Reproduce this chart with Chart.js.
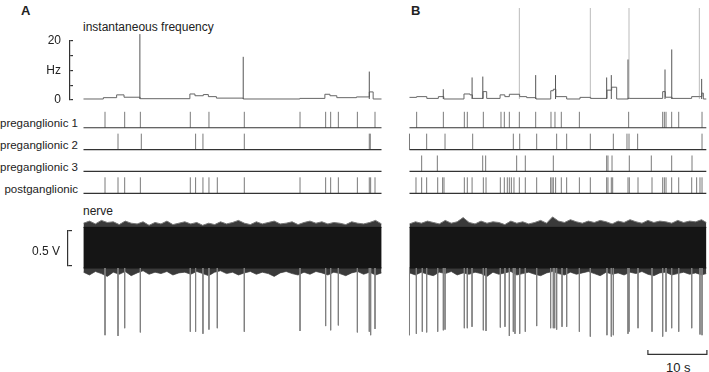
<!DOCTYPE html>
<html>
<head>
<meta charset="utf-8">
<script src="https://cdn.jsdelivr.net/npm/chart.js@4.4.1/dist/chart.umd.min.js"></script>
<style>
  body { margin: 0; background: #fff; }
  #fig { position: relative; width: 709px; height: 372px; overflow: hidden;
         font-family: "Liberation Sans", Arial, sans-serif; color: #222; }
  #fig canvas { position: absolute; }
  .lbl { position: absolute; white-space: nowrap; line-height: 1; }
  .row { font-size: 11.5px; text-align: right; width: 78px; left: 0; }
  .panel { font-size: 13px; font-weight: bold; }
</style>
</head>
<body>
<div id="fig">
  <div class="lbl panel" style="left:21px;top:4px">A</div>
  <div class="lbl panel" style="left:411px;top:4px">B</div>
  <div class="lbl" style="left:83px;top:21px;font-size:12px">instantaneous frequency</div>
  <div class="lbl row" style="top:118px">preganglionic 1</div>
  <div class="lbl row" style="top:140px">preganglionic 2</div>
  <div class="lbl row" style="top:162px">preganglionic 3</div>
  <div class="lbl row" style="top:183.5px">postganglionic</div>
  <div class="lbl" style="left:83px;top:205px;font-size:12px">nerve</div>
  <div class="lbl" style="left:666px;top:361px;font-size:13px">10 s</div>

  <canvas id="hzAxis" width="56" height="93" style="left:20px;top:24px"></canvas>
  <canvas id="voltBar" width="56" height="69" style="left:20px;top:214px"></canvas>

  <canvas id="freqA" width="306" height="93" style="left:80px;top:8px"></canvas>
  <canvas id="freqB" width="306" height="93" style="left:406px;top:8px"></canvas>
  <canvas id="rasterA" width="306" height="88" style="left:80px;top:108px"></canvas>
  <canvas id="rasterB" width="306" height="88" style="left:406px;top:108px"></canvas>
  <canvas id="nerveA" width="306" height="150" style="left:80px;top:212px"></canvas>
  <canvas id="nerveB" width="306" height="150" style="left:406px;top:212px"></canvas>
</div>
<script>
// ---------- data (time in s, frequency in Hz, nerve in V) ----------
const hzTicks = [0, 5, 10, 15, 20];
const hzTickText = ['0', '', 'Hz', '', '20'];
const voltTicks = [0, 0.2, 0.5];
const voltTickText = ['', '0.5 V', ''];

// instantaneous frequency: step levels + spikes
const stepTimesA = [0, 3.33, 5.56, 6.8, 9.5, 17.85, 18.7, 20.1, 20.95, 22.3, 26.8, 36.3, 40.5, 41.35, 42.5, 45.8, 47.95, 48.6, 50];
const stepHzA    = [0, 0.45, 1.4, 0.6, 0.1, 1.7, 1.1, 1.5, 0.8, 0.3, 0, 0.2, 1.6, 1.1, 0.45, 0.7, 2.4, 0, 0];
const spikeTimesA = [9.46, 26.8, 47.95];
const spikeHzA    = [22, 14.3, 9.3];

const stepTimesB = [0, 1.2, 2.9, 4.84, 5.75, 9.14, 10.15, 10.55, 12.35, 12.95, 15.2, 16.0, 16.75, 18.48, 19.66, 21.22, 23.7, 24.13, 24.55, 26.37, 28.6, 30.4, 33.13, 33.92, 34.76, 36.72, 36.88, 42.48, 42.92, 44.05, 47.34, 48.68, 49.07, 49.3, 49.8];
const stepHzB    = [0.55, 0.8, 0.2, 0.8, 0, 1.7, 1.4, 0.2, 2.5, 0.2, 1.4, 0.8, 1.6, 0.8, 0.45, 0, 2.8, 3.3, 0.8, 0, 0.55, 0.2, 3.0, 4.0, 0, 0.3, 0.2, 2.5, 0.6, 0.2, 0.8, 0.8, 2.0, 0, 0];
const spikeTimesB = [5.67, 10.5, 12.3, 18.43, 21.17, 24.5, 30.34, 33.08, 33.86, 36.66, 36.83, 42.87, 44.0, 48.63, 49.02];
const spikeHzB    = [3.3, 7.3, 7.6, 40, 8.1, 8.1, 40, 7.3, 8.1, 13.4, 40, 10, 16.8, 40, 6.8];

// spike rasters
const pre1A = [3.61, 6.91, 9.54, 17.92, 21.05, 26.98, 36.33, 40.63, 41.47, 42.76, 45.95, 48.91];
const pre2A = [5.79, 9.7, 18.81, 20.04, 26.98, 47.95, 48.12];
const pre3A = [];
const postA = [3.61, 5.79, 6.91, 9.54, 17.92, 18.81, 20.04, 21.05, 22.45, 26.98, 36.33, 40.63, 41.47, 42.76, 45.95, 47.95, 48.18, 48.91];

const pre1B = [1.2, 5.68, 9.2, 9.7, 12.39, 15.35, 15.91, 16.75, 18.43, 21.17, 23.74, 24.41, 25.47, 28.5, 36.77, 42.48, 42.76, 43.04, 43.99, 45.17, 49.08];
const pre2B = [0, 2.88, 5.96, 10.6, 17.42, 18.49, 21.34, 24.69, 26.37, 30.34, 34.2, 36.49, 36.83, 38.28, 49.08];
const pre3B = [2.04, 4.67, 12.28, 12.78, 17.98, 19.43, 24.13, 33.08, 33.3, 33.98, 36.88, 40.57, 43.99, 47.4];
const postB = [1.09, 2.04, 2.88, 4.73, 5.56, 5.79, 9.2, 9.7, 10.5, 12.39, 12.84, 15.24, 15.91, 16.41, 16.75, 17.09, 17.53, 18.43, 19.43, 21.34, 23.68, 23.91, 24.13, 24.52, 25.47, 26.37, 28.5, 30.34, 33.08, 33.3, 33.86, 34.09, 36.66, 36.88, 38.34, 40.69, 42.48, 42.76, 43.04, 43.99, 45.17, 47.35, 48.18, 48.74, 49.08];

// nerve recording: noise envelope (1 s steps) and spike troughs
const envTimesA = Array.from({ length: 51 }, (_, i) => i);
const envTimesB = Array.from({ length: 50 }, (_, i) => i).concat([49.8]);
const envTopA = [0.34,0.37,0.33,0.38,0.35,0.36,0.32,0.37,0.34,0.33,0.36,0.31,0.35,0.33,0.37,0.32,0.34,0.36,0.33,0.35,0.31,0.34,0.32,0.36,0.33,0.35,0.38,0.34,0.32,0.36,0.33,0.35,0.37,0.33,0.34,0.36,0.32,0.35,0.37,0.34,0.36,0.33,0.35,0.34,0.32,0.36,0.34,0.33,0.35,0.38,0.33];
const envBotA = [-0.36,-0.40,-0.35,-0.38,-0.42,-0.36,-0.39,-0.35,-0.41,-0.37,-0.34,-0.39,-0.36,-0.38,-0.35,-0.40,-0.37,-0.36,-0.39,-0.35,-0.38,-0.41,-0.36,-0.34,-0.38,-0.36,-0.40,-0.37,-0.35,-0.39,-0.36,-0.38,-0.42,-0.37,-0.35,-0.38,-0.40,-0.36,-0.39,-0.35,-0.37,-0.40,-0.36,-0.38,-0.41,-0.37,-0.35,-0.39,-0.36,-0.40,-0.37];
const envTopB = [0.33,0.36,0.34,0.37,0.35,0.33,0.38,0.34,0.36,0.42,0.35,0.33,0.37,0.34,0.36,0.35,0.32,0.37,0.34,0.36,0.33,0.35,0.38,0.34,0.43,0.37,0.35,0.39,0.36,0.34,0.37,0.35,0.38,0.36,0.33,0.37,0.35,0.39,0.36,0.34,0.38,0.35,0.37,0.36,0.34,0.38,0.35,0.37,0.36,0.39,0.35];
const envBotB = [-0.37,-0.40,-0.36,-0.39,-0.41,-0.36,-0.38,-0.35,-0.40,-0.37,-0.39,-0.36,-0.38,-0.42,-0.36,-0.39,-0.37,-0.35,-0.40,-0.38,-0.36,-0.39,-0.41,-0.37,-0.35,-0.38,-0.40,-0.36,-0.39,-0.37,-0.35,-0.38,-0.41,-0.36,-0.39,-0.37,-0.40,-0.36,-0.38,-0.35,-0.39,-0.41,-0.37,-0.36,-0.40,-0.38,-0.36,-0.39,-0.37,-0.40,-0.38];

const nerveSpikeTimesA = postA;
const nerveSpikeVoltsA = [-1.26,-1.27,-1.16,-1.22,-1.21,-1.21,-1.24,-1.18,-1.16,-1.21,-1.2,-1.13,-1.19,-1.12,-1.22,-1.21,-1.26,-1.17];
const nerveSpikeTimesB = [0, 1.15, 2.15, 2.88, 4.73, 5.68, 5.96, 9.2, 9.7, 10.49, 12.39, 12.84, 15.24, 16.02, 16.75, 17.42, 17.7, 18.49, 19.43, 21.34, 23.68, 24.13, 24.36, 24.69, 25.59, 26.37, 28.5, 30.34, 33.13, 33.86, 34.2, 36.66, 36.83, 38.34, 40.69, 42.48, 43.04, 43.99, 45.17, 47.35, 48.74, 49.08];
const nerveSpikeVoltsB = [-1.26,-1.24,-1.21,-1.22,-1.21,-1.19,-1.18,-1.16,-1.16,-1.14,-1.19,-1.2,-1.15,-1.14,-1.27,-1.21,-1.24,-1.24,-1.21,-1.13,-1.16,-1.16,-1.16,-1.18,-1.14,-1.14,-1.21,-1.28,-1.26,-1.28,-1.26,-1.24,-1.21,-1.16,-1.21,-1.28,-1.21,-1.16,-1.21,-1.16,-1.25,-1.26];

const scaleBarTimes = [40, 49.9];     // 10 s
const scaleBarVolts = [-1.533, -1.471];

// ---------- helpers ----------
const X_MIN = -0.587, X_MAX = 50.755;
const FONT = { family: '"Liberation Sans", Arial, sans-serif', size: 12 };
const BAND_TOP = 0.28, BAND_BOT = -0.30;

function pts(xs, ys) { return xs.map((x, i) => ({ x, y: ys[i] })); }

// vertical segments, broken by null points
function segs(times, lo, hi) {
  const out = [];
  times.forEach((t, i) => {
    out.push({ x: t, y: Array.isArray(lo) ? lo[i] : lo });
    out.push({ x: t, y: Array.isArray(hi) ? hi[i] : hi });
    out.push({ x: t, y: null });
  });
  return out;
}

function line(data, color, width, extra) {
  return Object.assign({ data, borderColor: color, borderWidth: width || 1, pointRadius: 0, fill: false, tension: 0 }, extra || {});
}

function traceChart(id, datasets, yMin, yMax) {
  return new Chart(document.getElementById(id), {
    type: 'line',
    data: { datasets },
    options: {
      responsive: false, animation: false, events: [],
      layout: { padding: 0 },
      plugins: { legend: { display: false }, tooltip: { enabled: false } },
      scales: {
        x: { type: 'linear', min: X_MIN, max: X_MAX, display: false },
        y: { type: 'linear', min: yMin, max: yMax, display: false }
      }
    }
  });
}

// bracket-style axis: labels on the left, short ticks pointing right
function axisChart(id, yMax, values, texts, width, pad, gap, hidden) {
  return new Chart(document.getElementById(id), {
    type: 'line',
    data: { datasets: [] },
    options: {
      responsive: false, animation: false, events: [],
      layout: { padding: { top: 17, bottom: 17, left: 0, right: pad } },
      plugins: { legend: { display: false }, tooltip: { enabled: false } },
      scales: {
        x: { type: 'linear', min: 0, max: 1, display: false },
        y: {
          type: 'linear', min: 0, max: yMax,
          afterFit: s => { s.width = width; },
          afterBuildTicks: s => { s.ticks = values.map(v => ({ value: v })); },
          ticks: { autoSkip: false, padding: gap, color: '#222', font: FONT,
                   callback: (v, i) => texts[i] },
          grid: { drawTicks: false, lineWidth: 1.2,
                  color: c => hidden.includes(c.index) ? 'rgba(0,0,0,0)' : '#333' },
          border: { display: true, color: '#333', width: 1.2 }
        }
      }
    }
  });
}

// ---------- axes ----------
axisChart('hzAxis', 20, hzTicks, hzTickText, 50, 3, 9, []);
axisChart('voltBar', 0.5, voltTicks, voltTickText, 48, 4, 8, [1]);

// ---------- frequency ----------
function freqDatasets(st, sh, kt, kh) {
  const low = kt.map((t, i) => kh[i] <= 30 ? i : -1).filter(i => i >= 0);
  const high = kt.map((t, i) => kh[i] > 30 ? i : -1).filter(i => i >= 0);
  return [
    line(segs(low.map(i => kt[i]), 0, low.map(i => kh[i])), '#555', 1),
    line(pts(st, sh), '#666', 1, { stepped: 'before' }),
    line(segs(high.map(i => kt[i]), 0, high.map(i => kh[i])), '#bbb', 1)
  ];
}
traceChart('freqA', freqDatasets(stepTimesA, stepHzA, spikeTimesA, spikeHzA), -0.68, 30.85);
traceChart('freqB', freqDatasets(stepTimesB, stepHzB, spikeTimesB, spikeHzB), -0.68, 30.85);

// ---------- rasters ----------
const TICK_H = 0.73;
function rasterDatasets(rows, end) {
  const ds = [];
  rows.forEach((times, k) => {
    const base = 3 - k;
    ds.push(line([{ x: 0, y: base }, { x: end, y: base }], '#333', 1.2));
    ds.push(line(segs(times, base, base + TICK_H), '#7a7a7a', 1));
  });
  return ds;
}
traceChart('rasterA', rasterDatasets([pre1A, pre2A, pre3A, postA], 50), -0.124, 3.904);
traceChart('rasterB', rasterDatasets([pre1B, pre2B, pre3B, postB], 49.8), -0.124, 3.904);

// ---------- nerve ----------
function nerveDatasets(et, top, bot, st, sv, end) {
  return [
    line(segs(st, BAND_BOT, sv), '#808080', 1),
    line([{ x: 0, y: BAND_TOP }, { x: end, y: BAND_TOP }], '#111', 0, { fill: '+1', backgroundColor: '#151515' }),
    line([{ x: 0, y: BAND_BOT }, { x: end, y: BAND_BOT }], '#111', 0),
    line(pts(et, top), '#777', 1, { fill: '+1', backgroundColor: '#3a3a3a' }),
    line(pts(et, bot), '#777', 1)
  ];
}
const nA = nerveDatasets(envTimesA, envTopA, envBotA, nerveSpikeTimesA, nerveSpikeVoltsA, 50);
traceChart('nerveA', nA, -1.643, 0.5);

const nB = nerveDatasets(envTimesB, envTopB, envBotB, nerveSpikeTimesB, nerveSpikeVoltsB, 49.8);
nB.push(line([
  { x: scaleBarTimes[0], y: scaleBarVolts[1] }, { x: scaleBarTimes[0], y: scaleBarVolts[0] },
  { x: scaleBarTimes[1], y: scaleBarVolts[0] }, { x: scaleBarTimes[1], y: scaleBarVolts[1] }
], '#333', 1.2));
traceChart('nerveB', nB, -1.643, 0.5);
</script>
</body>
</html>
